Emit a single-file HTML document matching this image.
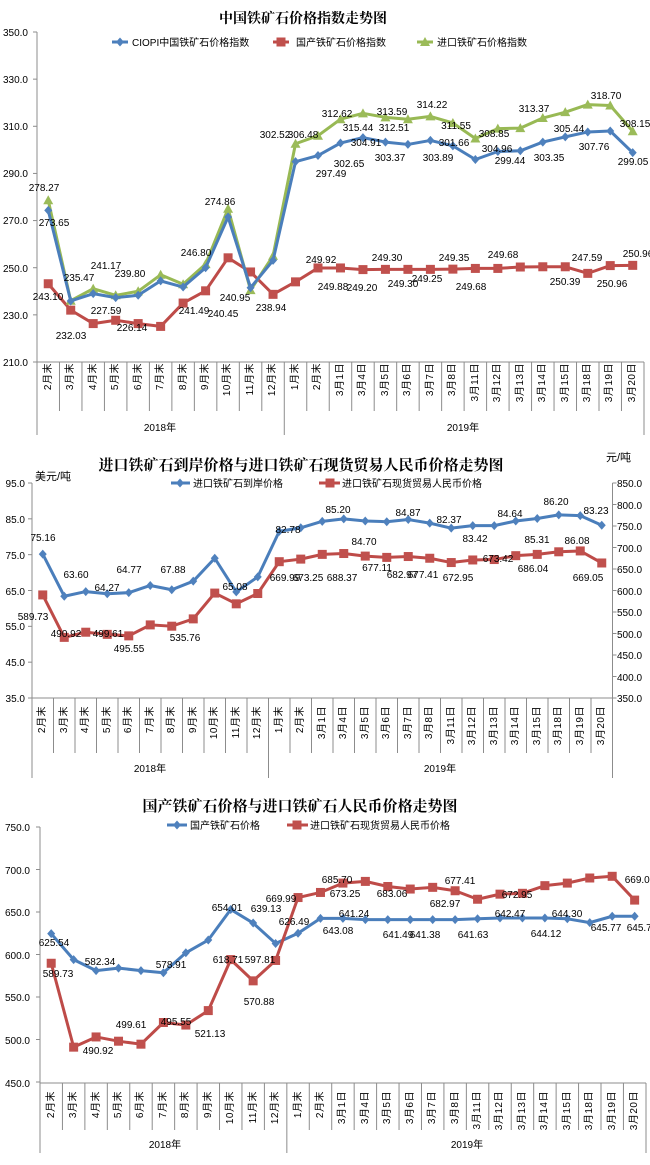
<!DOCTYPE html>
<html><head><meta charset="utf-8">
<style>
body{margin:0;background:#fff;width:650px;height:1165px;position:relative;overflow:hidden;font-family:"Liberation Sans","Noto Sans CJK SC",sans-serif;}
svg{position:absolute;left:0;top:0}
.row{position:absolute;display:flex}
.row div{flex:0 0 auto;display:flex;justify-content:center;align-items:flex-start}
.row span{writing-mode:vertical-rl;text-orientation:sideways;transform:rotate(180deg);font-size:10px;color:#000;line-height:11px;letter-spacing:0.5px;white-space:nowrap}
</style></head><body>
<svg id="s" width="650" height="1165" xmlns="http://www.w3.org/2000/svg" font-family="Liberation Sans, Noto Sans CJK SC, sans-serif">
<g font-family="Liberation Serif, Noto Serif CJK SC, serif" font-weight="bold" text-anchor="middle">
<text x="303" y="23" font-size="14">中国铁矿石价格指数走势图</text>
<text x="301" y="470" font-size="15">进口铁矿石到岸价格与进口铁矿石现货贸易人民币价格走势图</text>
<text x="300" y="811" font-size="15">国产铁矿石价格与进口铁矿石人民币价格走势图</text>
</g>
<g font-size="10" fill="#000">
<!-- legends -->
<text x="132" y="46">CIOPI中国铁矿石价格指数</text>
<text x="296" y="46">国产铁矿石价格指数</text>
<text x="437" y="46">进口铁矿石价格指数</text>
<text x="193" y="487">进口铁矿石到岸价格</text>
<text x="342" y="487">进口铁矿石现货贸易人民币价格</text>
<text x="190" y="829">国产铁矿石价格</text>
<text x="310" y="829">进口铁矿石现货贸易人民币价格</text>
<text x="35" y="480" font-size="11">美元/吨</text>
<text x="606" y="461" font-size="11">元/吨</text>
<!-- y ticks chart1 -->
<g text-anchor="end">
<text x="28" y="36">350.0</text><text x="28" y="83">330.0</text><text x="28" y="130">310.0</text><text x="28" y="177">290.0</text><text x="28" y="224">270.0</text><text x="28" y="272">250.0</text><text x="28" y="319">230.0</text><text x="28" y="366">210.0</text>
<text x="25" y="487">95.0</text><text x="25" y="523">85.0</text><text x="25" y="559">75.0</text><text x="25" y="595">65.0</text><text x="25" y="630">55.0</text><text x="25" y="666">45.0</text><text x="25" y="702">35.0</text>
<text x="30" y="831">750.0</text><text x="30" y="874">700.0</text><text x="30" y="916">650.0</text><text x="30" y="959">600.0</text><text x="30" y="1001">550.0</text><text x="30" y="1044">500.0</text><text x="30" y="1087">450.0</text>
</g>
<text x="617" y="487">850.0</text><text x="617" y="509">800.0</text><text x="617" y="530">750.0</text><text x="617" y="552">700.0</text><text x="617" y="573">650.0</text><text x="617" y="595">600.0</text><text x="617" y="616">550.0</text><text x="617" y="638">500.0</text><text x="617" y="659">450.0</text><text x="617" y="681">400.0</text><text x="617" y="702">350.0</text>
<!-- years -->
<g text-anchor="middle">
<text x="160" y="431">2018年</text><text x="463" y="431">2019年</text>
<text x="150" y="772">2018年</text><text x="440" y="772">2019年</text>
<text x="165" y="1148">2018年</text><text x="467" y="1148">2019年</text>
</g>
</g>
<g id="plots"></g>
<g font-size="10" fill="#000" text-anchor="middle">
<!-- chart1 labels -->
<text x="44" y="191">278.27</text><text x="220" y="205">274.86</text><text x="275" y="138">302.52</text><text x="303" y="138">306.48</text>
<text x="337" y="117">312.62</text><text x="358" y="131">315.44</text><text x="366" y="146">304.91</text><text x="349" y="167">302.65</text><text x="331" y="177">297.49</text>
<text x="392" y="115">313.59</text><text x="394" y="131">312.51</text><text x="390" y="161">303.37</text><text x="432" y="108">314.22</text><text x="456" y="129">311.55</text>
<text x="454" y="146">301.66</text><text x="438" y="161">303.89</text><text x="494" y="137">308.85</text><text x="497" y="152">304.96</text><text x="510" y="164">299.44</text>
<text x="549" y="161">303.35</text><text x="534" y="112">313.37</text><text x="569" y="132">305.44</text><text x="594" y="150">307.76</text><text x="606" y="99">318.70</text>
<text x="635" y="127">308.15</text><text x="633" y="165">299.05</text>
<text x="54" y="226">273.65</text><text x="48" y="300">243.10</text><text x="79" y="281">235.47</text><text x="71" y="339">232.03</text><text x="106" y="269">241.17</text>
<text x="106" y="314">227.59</text><text x="130" y="277">239.80</text><text x="132" y="331">226.14</text><text x="194" y="314">241.49</text><text x="196" y="256">246.80</text>
<text x="223" y="317">240.45</text><text x="235" y="301">240.95</text><text x="271" y="311">238.94</text><text x="321" y="263">249.92</text><text x="333" y="290">249.88</text>
<text x="362" y="291">249.20</text><text x="387" y="261">249.30</text><text x="403" y="287">249.30</text><text x="427" y="282">249.25</text><text x="454" y="261">249.35</text>
<text x="471" y="290">249.68</text><text x="503" y="258">249.68</text><text x="565" y="285">250.39</text><text x="587" y="261">247.59</text><text x="612" y="287">250.96</text><text x="638" y="257">250.96</text>
<!-- chart2 labels -->
<text x="43" y="541">75.16</text><text x="76" y="578">63.60</text><text x="107" y="591">64.27</text><text x="129" y="573">64.77</text><text x="173" y="573">67.88</text>
<text x="235" y="590">65.08</text><text x="288" y="533">82.78</text><text x="338" y="513">85.20</text><text x="364" y="545">84.70</text><text x="408" y="516">84.87</text>
<text x="449" y="523">82.37</text><text x="475" y="542">83.42</text><text x="510" y="517">84.64</text><text x="537" y="543">85.31</text><text x="556" y="505">86.20</text>
<text x="577" y="544">86.08</text><text x="596" y="514">83.23</text>
<text x="33" y="620">589.73</text><text x="66" y="637">490.92</text><text x="108" y="637">499.61</text><text x="129" y="652">495.55</text><text x="185" y="641">535.76</text>
<text x="285" y="581">669.99</text><text x="308" y="581">673.25</text><text x="342" y="581">688.37</text><text x="377" y="571">677.11</text><text x="402" y="578">682.97</text>
<text x="423" y="578">677.41</text><text x="458" y="581">672.95</text><text x="498" y="562">673.42</text><text x="533" y="572">686.04</text><text x="588" y="581">669.05</text>
<!-- chart3 labels -->
<text x="54" y="946">625.54</text><text x="58" y="977">589.73</text><text x="100" y="965">582.34</text><text x="171" y="968">578.91</text><text x="227" y="911">654.01</text>
<text x="266" y="912">639.13</text><text x="228" y="963">618.71</text><text x="260" y="963">597.81</text><text x="281" y="902">669.99</text><text x="294" y="925">626.49</text>
<text x="337" y="883">685.70</text><text x="345" y="897">673.25</text><text x="354" y="917">641.24</text><text x="338" y="934">643.08</text><text x="392" y="897">683.06</text>
<text x="398" y="938">641.49</text><text x="425" y="938">641.38</text><text x="460" y="884">677.41</text><text x="445" y="907">682.97</text><text x="473" y="938">641.63</text>
<text x="510" y="917">642.47</text><text x="517" y="898">672.95</text><text x="546" y="937">644.12</text><text x="567" y="917">644.30</text><text x="606" y="931">645.77</text>
<text x="640" y="883">669.05</text><text x="642" y="931">645.77</text>
<text x="259" y="1005">570.88</text><text x="176" y="1025">495.55</text><text x="131" y="1028">499.61</text><text x="210" y="1037">521.13</text><text x="98" y="1054">490.92</text>
</g>
</svg>

<div class="row" style="left:37px;top:363px;height:48px">
<div style="width:22.48px"><span>2月末</span></div><div style="width:22.48px"><span>3月末</span></div><div style="width:22.48px"><span>4月末</span></div><div style="width:22.48px"><span>5月末</span></div><div style="width:22.48px"><span>6月末</span></div><div style="width:22.48px"><span>7月末</span></div><div style="width:22.48px"><span>8月末</span></div><div style="width:22.48px"><span>9月末</span></div><div style="width:22.48px"><span>10月末</span></div><div style="width:22.48px"><span>11月末</span></div><div style="width:22.48px"><span>12月末</span></div><div style="width:22.48px"><span>1月末</span></div><div style="width:22.48px"><span>2月末</span></div><div style="width:22.48px"><span>3月1日</span></div><div style="width:22.48px"><span>3月4日</span></div><div style="width:22.48px"><span>3月5日</span></div><div style="width:22.48px"><span>3月6日</span></div><div style="width:22.48px"><span>3月7日</span></div><div style="width:22.48px"><span>3月8日</span></div><div style="width:22.48px"><span>3月11日</span></div><div style="width:22.48px"><span>3月12日</span></div><div style="width:22.48px"><span>3月13日</span></div><div style="width:22.48px"><span>3月14日</span></div><div style="width:22.48px"><span>3月15日</span></div><div style="width:22.48px"><span>3月18日</span></div><div style="width:22.48px"><span>3月19日</span></div><div style="width:22.48px"><span>3月20日</span></div>
</div>
<div class="row" style="left:32px;top:706px;height:48px">
<div style="width:21.5px"><span>2月末</span></div><div style="width:21.5px"><span>3月末</span></div><div style="width:21.5px"><span>4月末</span></div><div style="width:21.5px"><span>5月末</span></div><div style="width:21.5px"><span>6月末</span></div><div style="width:21.5px"><span>7月末</span></div><div style="width:21.5px"><span>8月末</span></div><div style="width:21.5px"><span>9月末</span></div><div style="width:21.5px"><span>10月末</span></div><div style="width:21.5px"><span>11月末</span></div><div style="width:21.5px"><span>12月末</span></div><div style="width:21.5px"><span>1月末</span></div><div style="width:21.5px"><span>2月末</span></div><div style="width:21.5px"><span>3月1日</span></div><div style="width:21.5px"><span>3月4日</span></div><div style="width:21.5px"><span>3月5日</span></div><div style="width:21.5px"><span>3月6日</span></div><div style="width:21.5px"><span>3月7日</span></div><div style="width:21.5px"><span>3月8日</span></div><div style="width:21.5px"><span>3月11日</span></div><div style="width:21.5px"><span>3月12日</span></div><div style="width:21.5px"><span>3月13日</span></div><div style="width:21.5px"><span>3月14日</span></div><div style="width:21.5px"><span>3月15日</span></div><div style="width:21.5px"><span>3月18日</span></div><div style="width:21.5px"><span>3月19日</span></div><div style="width:21.5px"><span>3月20日</span></div>
</div>
<div class="row" style="left:40px;top:1091px;height:40px">
<div style="width:22.44px"><span>2月末</span></div><div style="width:22.44px"><span>3月末</span></div><div style="width:22.44px"><span>4月末</span></div><div style="width:22.44px"><span>5月末</span></div><div style="width:22.44px"><span>6月末</span></div><div style="width:22.44px"><span>7月末</span></div><div style="width:22.44px"><span>8月末</span></div><div style="width:22.44px"><span>9月末</span></div><div style="width:22.44px"><span>10月末</span></div><div style="width:22.44px"><span>11月末</span></div><div style="width:22.44px"><span>12月末</span></div><div style="width:22.44px"><span>1月末</span></div><div style="width:22.44px"><span>2月末</span></div><div style="width:22.44px"><span>3月1日</span></div><div style="width:22.44px"><span>3月4日</span></div><div style="width:22.44px"><span>3月5日</span></div><div style="width:22.44px"><span>3月6日</span></div><div style="width:22.44px"><span>3月7日</span></div><div style="width:22.44px"><span>3月8日</span></div><div style="width:22.44px"><span>3月11日</span></div><div style="width:22.44px"><span>3月12日</span></div><div style="width:22.44px"><span>3月13日</span></div><div style="width:22.44px"><span>3月14日</span></div><div style="width:22.44px"><span>3月15日</span></div><div style="width:22.44px"><span>3月18日</span></div><div style="width:22.44px"><span>3月19日</span></div><div style="width:22.44px"><span>3月20日</span></div>
</div>

<script>
(function(){
var NS="http://www.w3.org/2000/svg",g=document.getElementById("plots");
function el(t,a){var e=document.createElementNS(NS,t);for(var k in a)e.setAttribute(k,a[k]);g.appendChild(e);return e;}
function line(x1,y1,x2,y2,c,w){el("line",{x1:x1,y1:y1,x2:x2,y2:y2,stroke:c||"#8c8c8c","stroke-width":w||1});}
function mark(type,x,y,c){
 if(type=="d")el("polygon",{points:(x)+","+(y-4.5)+" "+(x+4)+","+y+" "+x+","+(y+4.5)+" "+(x-4)+","+y,fill:c});
 else if(type=="s")el("rect",{x:x-4.5,y:y-4.5,width:9,height:9,fill:c});
 else el("polygon",{points:x+","+(y-5)+" "+(x+5)+","+(y+4)+" "+(x-5)+","+(y+4),fill:c});
}
function series(xs,ys,lc,mc,type){
 var p=xs.map(function(x,i){return x+","+ys[i]}).join(" ");
 el("polyline",{points:p,fill:"none",stroke:lc,"stroke-width":3,"stroke-linejoin":"round"});
 xs.forEach(function(x,i){mark(type,x,ys[i],mc)});
}
function frame(L,R,top,bot,lab,yr,w,ticks,rticks){
 line(L,top,L,yr);line(L,bot,R,bot);
 ticks.forEach(function(t){line(L-4,t,L,t)});
 for(var i=1;i<27;i++){var x=L+w*i;line(x,bot,x,(i==11)?yr:lab);}
 line(R,bot,R,yr);
 if(rticks){line(R,top,R,bot);rticks.forEach(function(t){line(R,t,R+4,t)});}
}
var B="#4a7ebb",BM="#4f81bd",RD="#be4b48",RM="#c0504d",GR="#98b954",GM="#9bbb59";
// chart1
var x1=[],x2=[],x3=[];for(var i=0;i<27;i++){x1.push(48.24+22.48*i);x2.push(42.75+21.5*i);x3.push(51.2+22.44*i);}
var y1=function(v){return 32+(350-v)*330/140};
var t1=[];for(var v=350;v>=210;v-=20)t1.push(y1(v));
frame(37,644,32,362,411,435,22.48,t1);
series(x1,[243.2,232,226.3,227.7,226.3,225.1,235,240.2,254.2,248.2,238.7,244,249.9,249.9,249.2,249.3,249.3,249.3,249.4,249.7,249.7,250.3,250.4,250.4,247.6,250.9,251].map(y1),RD,RM,"s");
series(x1,[278.6,236,241.1,238.3,240,247,243,251.5,275,240.5,255,302.6,306,313,315.5,313.8,313,314.2,311.4,304.8,309,309.2,313.5,316,319.2,318.8,307.9].map(y1),GR,GM,"t");
series(x1,[274.3,235.9,239,237.3,238.3,244.4,241.8,250,271.5,241.5,253.1,295,297.6,302.9,305.2,303.3,302.3,304,301.7,295.9,299.3,299.6,303.3,305.5,307.6,308,298.8].map(y1),B,BM,"d");
// legend1
line(112,42,128,42,B,3);mark("d",120,42,BM);
line(273,42,289,42,RD,3);mark("s",281,42,RM);
line(417,42,433,42,GR,3);mark("t",425,42,GM);
// chart2
var y2=function(v){return 483+(95-v)*215/60},y2r=function(v){return 483+(850-v)*0.43};
var t2=[],t2r=[];for(v=95;v>=35;v-=10)t2.push(y2(v));for(v=850;v>=350;v-=50)t2r.push(y2r(v));
frame(32,612.5,483,698,753,778,21.5,t2,t2r);
series(x2,[75.16,63.4,64.7,64.1,64.4,66.4,65.2,67.6,74,64.6,68.8,81.5,82.5,84.3,85,84.4,84.2,84.8,83.8,82.4,83.1,83.1,84.4,85.1,86.1,85.9,83.2].map(y2),B,BM,"d");
var red=[589.7,491,503,498,494.5,520,517,534,594,569,593,667,673,684,686,680,677,679,675,665,671,672,681,684,690,692,664];
series(x2,red.map(y2r),RD,RM,"s");
line(171,483,190,483,B,3);mark("d",180,483,BM);
line(319,483,340,483,RD,3);mark("s",330,483,RM);
// chart3
var y3=function(v){return 827+(750-v)*0.85};
var t3=[];for(v=750;v>=450;v-=50)t3.push(y3(v));
frame(40,646,827,1083,1130,1153,22.44,t3);
series(x3,[624.5,594,581,584,581,578.5,602,617,653,637,613,625,642.5,642.5,641,641,641,641,641,642,643,643,643,642,637.5,645,645].map(y3),B,BM,"d");
series(x3,red.map(y3),RD,RM,"s");
line(167,825,187,825,B,3);mark("d",177,825,BM);
line(287,825,308,825,RD,3);mark("s",297,825,RM);
})();
</script>
</body></html>
